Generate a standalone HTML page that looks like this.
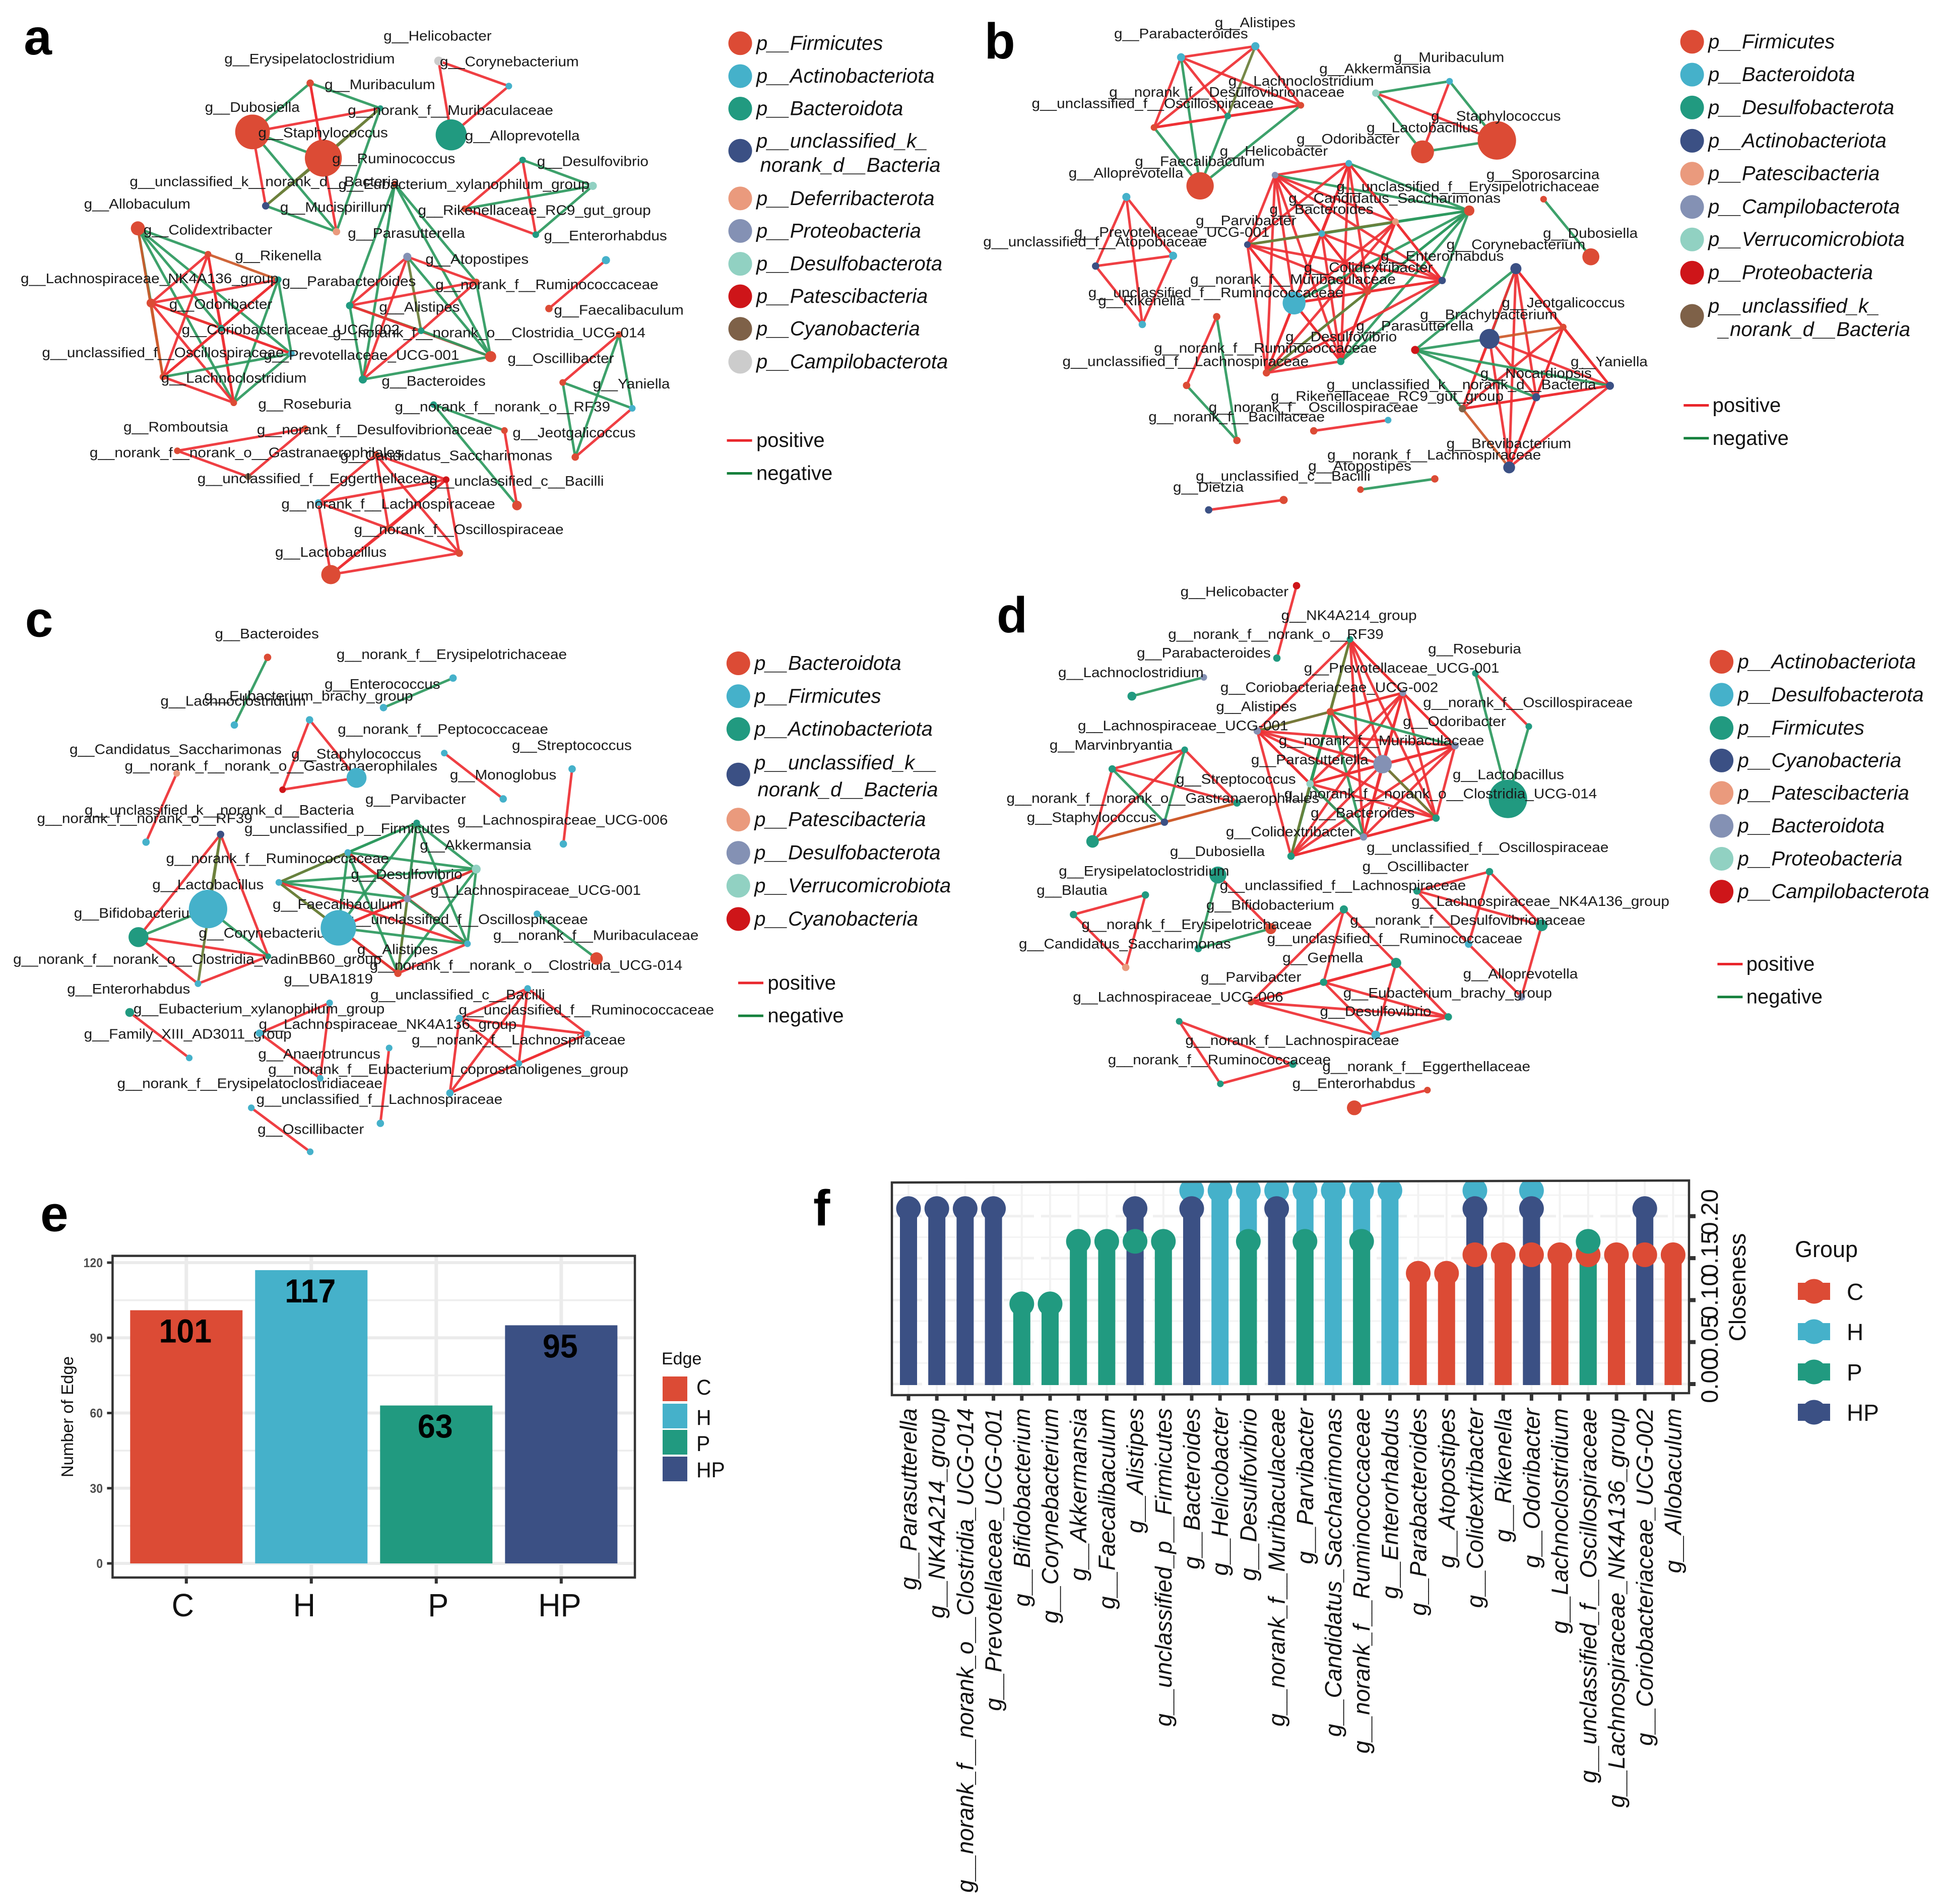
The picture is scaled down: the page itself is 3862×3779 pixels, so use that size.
<!DOCTYPE html>
<html lang="en">
<head>
<meta charset="utf-8">
<title>Microbial co-occurrence networks</title>
<style>
html,body{margin:0;padding:0;background:#fff;}
svg{display:block;font-family:"Liberation Sans",sans-serif;}
</style>
</head>
<body>
<svg id="figure" xmlns="http://www.w3.org/2000/svg" width="3862" height="3779" viewBox="0 0 3862 3779">
<rect x="0" y="0" width="3862" height="3779" fill="#ffffff"/>
</svg>
<script>
const palette = {R:'#DC4B35',B:'#45B1CA',T:'#219A80',N:'#3B5084',S:'#EA9A7D',V:'#8491B4',M:'#91D1C2',D:'#CE1519',W:'#7E6148',G:'#CCCCCC'};
const edgeColors = {p:'#EE3035',n:'#2E9A60',o:'#6C7F3A',c:'#CC5A2B'};

/* Panel a */
const aNodes = [[700,165,12,'G'],[812,233,9,'B'],[720,365,42,'T'],[495,225,10,'R'],[607,293,8,'T'],[403,357,47,'R'],[516,428,50,'R'],[630,498,9,'R'],[424,557,10,'N'],[537,627,10,'S'],[834,433,9,'T'],[946,503,11,'M'],[742,565,9,'R'],[855,635,9,'T'],[220,618,19,'R'],[332,688,9,'R'],[444,757,9,'T'],[241,820,12,'R'],[353,888,9,'T'],[465,957,9,'B'],[260,1020,9,'R'],[373,1090,9,'R'],[650,695,11,'V'],[760,763,9,'R'],[558,827,10,'T'],[672,895,9,'T'],[783,965,15,'R'],[579,1027,11,'T'],[967,704,11,'B'],[876,835,10,'R'],[988,905,9,'R'],[898,1035,9,'R'],[1009,1105,9,'B'],[918,1237,10,'R'],[692,1095,9,'T'],[805,1165,9,'R'],[825,1368,13,'R'],[487,1160,9,'R'],[283,1220,9,'R'],[396,1290,9,'W'],[600,1230,9,'R'],[712,1298,9,'D'],[508,1360,9,'B'],[620,1430,9,'R'],[733,1497,10,'R'],[528,1555,26,'R']];
const aEdges = "0-1p 1-2p 0-2p 3-4n 3-5n 3-6p 3-9p 4-5p 4-6o 4-8o 5-6n 5-8p 5-9n 4-9n 8-9n 6-8o 10-11n 10-12p 10-13p 11-12n 11-13n 12-13p 14-15n 14-17n 14-18n 14-19n 14-20c 14-21n 15-16c 15-17p 15-18p 15-20p 15-21p 16-17p 16-18p 16-19n 16-20p 16-21n 17-18c 17-19p 17-20c 17-21p 18-19p 18-20p 18-21p 19-20n 19-21n 20-21p 7-24n 7-27n 7-23n 7-26n 22-23p 22-24p 22-25o 22-26n 22-27p 23-24p 23-25p 23-26n 24-25o 24-26p 25-26n 25-27p 26-27n 24-27n 28-29p 30-31p 30-32n 30-33n 31-32n 31-33n 32-33p 34-35n 34-36n 35-36p 37-38p 38-39p 37-39p 40-41p 40-42p 40-43p 40-44p 41-42p 41-43p 41-44p 41-45p 42-43p 42-45p 43-44p 43-45p 44-45p".split(' ');
const aLabels = [["g__Helicobacter",612,98],["g__Erysipelatoclostridium",358,160],["g__Corynebacterium",702,168],["g__Muribaculum",518,230],["g__Dubosiella",327,291],["g__norank_f__Muribaculaceae",555,299],["g__Staphylococcus",412,360],["g__Alloprevotella",742,368],["g__Ruminococcus",530,430],["g__Desulfovibrio",857,438],["g__unclassified_k__norank_d__Bacteria",207,492],["g__Eubacterium_xylanophilum_group",540,500],["g__Allobaculum",134,553],["g__Mucispirillum",447,562],["g__Rikenellaceae_RC9_gut_group",667,570],["g__Colidextribacter",229,623],["g__Parasutterella",555,632],["g__Enterorhabdus",868,639],["g__Rikenella",375,693],["g__Atopostipes",679,702],["g__Lachnospiraceae_NK4A136_group",33,755],["g__Parabacteroides",450,762],["g__norank_f__Ruminococcaceae",695,771],["g__Odoribacter",270,824],["g__Alistipes",605,832],["g__Faecalibaculum",884,840],["g__Coriobacteriaceae_UCG-002",290,893],["g__norank_f__norank_o__Clostridia_UCG-014",531,901],["g__unclassified_f__Oscillospiraceae",67,955],["g__Prevotellaceae_UCG-001",421,962],["g__Oscillibacter",810,971],["g__Lachnoclostridium",257,1024],["g__Bacteroides",609,1032],["g__Yaniella",946,1040],["g__Roseburia",412,1094],["g__norank_f__norank_o__RF39",630,1102],["g__Romboutsia",197,1156],["g__norank_f__Desulfovibrionaceae",410,1164],["g__Jeotgalicoccus",818,1172],["g__norank_f__norank_o__Gastranaerophilales",143,1226],["g__Candidatus_Saccharimonas",543,1234],["g__unclassified_f__Eggerthellaceae",315,1296],["g__unclassified_c__Bacilli",685,1303],["g__norank_f__Lachnospiraceae",449,1365],["g__norank_f__Oscillospiraceae",565,1434],["g__Lactobacillus",439,1495]];
const aLegend = [[["p__Firmicutes"],'R',117,[117],[1207]],[["p__Actinobacteriota"],'B',206,[206],[1207]],[["p__Bacteroidota"],'T',294,[294],[1207]],[["p__unclassified_k_","norank_d__Bacteria"],'N',408,[382,447],[1207,1213]],[["p__Deferribacterota"],'S',537,[537],[1207]],[["p__Proteobacteria"],'V',625,[625],[1207]],[["p__Desulfobacterota"],'M',714,[714],[1207]],[["p__Patescibacteria"],'D',802,[802],[1207]],[["p__Cyanobacteria"],'W',890,[890],[1207]],[["p__Campilobacterota"],'G',979,[979],[1207]]];

/* Panel b */
const bNodes = [[323,155,11,'B'],[444,125,11,'B'],[518,285,9,'R'],[279,345,9,'R'],[399,314,9,'T'],[354,503,37,'R'],[640,252,10,'M'],[760,220,9,'B'],[716,411,31,'R'],[837,380,52,'R'],[476,474,9,'V'],[596,442,9,'B'],[792,570,14,'R'],[672,600,9,'S'],[552,632,9,'B'],[431,662,9,'N'],[748,759,10,'N'],[627,789,9,'R'],[507,820,31,'B'],[583,978,10,'T'],[462,1009,10,'R'],[913,539,9,'R'],[990,695,23,'R'],[234,533,11,'B'],[310,692,11,'B'],[184,720,10,'N'],[260,878,10,'B'],[381,857,10,'R'],[332,1043,10,'R'],[414,1192,10,'R'],[868,727,15,'N'],[945,885,9,'R'],[825,917,27,'N'],[704,947,11,'D'],[1021,1044,11,'N'],[901,1075,11,'N'],[781,1106,10,'W'],[857,1265,16,'N'],[539,1166,10,'R'],[660,1137,9,'B'],[615,1325,9,'R'],[736,1296,10,'R'],[368,1380,10,'N'],[490,1353,11,'R']];
const bEdges = "0-1p 0-2p 0-3p 0-4p 0-5n 1-2p 1-3p 1-4o 2-3p 2-4p 2-5n 3-4p 3-5n 4-5n 6-7n 6-8n 6-9p 7-8p 7-9n 8-9n 10-11p 10-12n 10-13p 10-14p 10-15p 10-16p 10-17p 10-18p 10-19p 10-20p 11-12n 11-13p 11-14p 11-15p 11-16p 11-17p 11-18p 11-19p 11-20p 12-13n 12-14n 12-15n 12-16n 12-17n 12-18n 12-19n 12-20n 13-14n 13-15o 13-16p 13-17p 13-18p 13-19p 13-20p 14-15o 14-16p 14-17p 14-18p 14-19p 14-20p 15-16p 15-17p 15-18p 15-19p 15-20p 16-17p 16-18p 16-19n 16-20p 17-18p 17-19p 17-20o 18-19p 18-20p 19-20p 21-22n 23-24p 23-25p 23-26p 24-25p 24-26p 25-26p 27-28p 27-29n 28-29n 30-31p 30-32n 30-33n 30-34p 30-35p 30-36p 30-37p 31-32c 31-34p 31-35p 31-36p 31-37p 32-33n 32-34p 32-35p 32-36p 32-37p 33-34n 33-35n 33-36n 34-35p 34-36p 34-37p 35-36p 35-37p 36-37c 38-39p 40-41n 42-43p".split(' ');
const bLabels = [["g__Alistipes",378,62],["g__Parabacteroides",214,92],["g__Muribaculum",669,156],["g__Akkermansia",548,187],["g__Lachnoclostridium",400,220],["g__norank_f__Desulfovibrionaceae",206,250],["g__unclassified_f__Oscillospiraceae",80,281],["g__Staphylococcus",730,315],["g__Lactobacillus",625,346],["g__Odoribacter",511,377],["g__Helicobacter",386,410],["g__Faecalibaculum",248,438],["g__Alloprevotella",140,469],["g__Sporosarcina",820,473],["g__unclassified_f__Erysipelotrichaceae",576,506],["g__Candidatus_Saccharimonas",498,537],["g__Bacteroides",467,567],["g__Parvibacter",347,598],["g__Prevotellaceae_UCG-001",149,629],["g__Dubosiella",912,632],["g__unclassified_f__Atopobiaceae",1,655],["g__Corynebacterium",755,663],["g__Enterorhabdus",648,694],["g__Colidextribacter",523,725],["g__norank_f__Muribaculaceae",338,757],["g__unclassified_f__Ruminococcaceae",172,793],["g__Rikenella",188,815],["g__Jeotgalicoccus",845,820],["g__Brachybacterium",712,852],["g__Parasutterella",608,883],["g__Desulfovibrio",493,912],["g__norank_f__Ruminococcaceae",279,943],["g__unclassified_f__Lachnospiraceae",130,979],["g__Yaniella",957,980],["g__Nocardiopsis",810,1011],["g__unclassified_k__norank_d__Bacteria",560,1042],["g__Rikenellaceae_RC9_gut_group",469,1073],["g__norank_f__Oscillospiraceae",368,1103],["g__norank_f__Bacillaceae",270,1129],["g__Brevibacterium",755,1201],["g__norank_f__Lachnospiraceae",561,1232],["g__Atopostipes",530,1262],["g__unclassified_c__Bacilli",347,1289],["g__Dietzia",310,1319]];
const bLegend = [[["p__Firmicutes"],'R',113,[113],[1181]],[["p__Bacteroidota"],'B',202,[202],[1181]],[["p__Desulfobacterota"],'T',291,[291],[1181]],[["p__Actinobacteriota"],'N',381,[381],[1181]],[["p__Patescibacteria"],'S',470,[470],[1181]],[["p__Campilobacterota"],'V',560,[560],[1181]],[["p__Verrucomicrobiota"],'M',648,[648],[1181]],[["p__Proteobacteria"],'D',738,[738],[1181]],[["p__unclassified_k_","_norank_d__Bacteria"],'W',855,[828,892],[1181,1198]]];

/* Panel c */
const cNodes = [[427,211,10,'R'],[374,394,10,'B'],[723,267,10,'B'],[612,347,10,'B'],[494,380,10,'B'],[569,537,27,'B'],[451,569,9,'D'],[709,470,9,'B'],[803,594,10,'B'],[913,513,10,'B'],[899,716,10,'B'],[282,525,9,'S'],[233,711,10,'B'],[352,690,10,'N'],[332,892,52,'B'],[221,968,27,'T'],[428,1020,8,'T'],[316,1094,9,'B'],[665,659,9,'T'],[555,739,9,'B'],[760,784,12,'M'],[445,820,9,'B'],[650,864,10,'V'],[540,943,48,'B'],[746,986,9,'B'],[635,1066,10,'R'],[857,905,9,'B'],[952,1026,17,'R'],[842,1107,9,'B'],[733,1188,10,'B'],[937,1230,9,'B'],[828,1310,9,'B'],[718,1390,10,'B'],[207,1172,12,'T'],[302,1295,9,'B'],[526,1146,9,'B'],[511,1350,9,'B'],[414,1228,10,'B'],[621,1268,9,'B'],[607,1472,10,'B'],[401,1430,9,'B'],[495,1549,9,'B']];
const cEdges = "0-1n 2-3n 4-5p 4-6p 5-6p 7-8p 9-10p 11-12p 13-14o 13-15p 13-16p 14-15n 14-16n 15-16p 15-17p 16-17p 13-17o 18-19n 18-20n 18-21n 18-22c 18-23n 18-24n 18-25n 19-20n 19-21o 19-22o 19-23n 19-24p 19-25n 20-21n 20-22n 20-23p 20-24n 20-25n 21-22n 21-23o 21-24p 21-25o 22-23p 22-24n 22-25o 23-24n 23-25p 24-25p 26-27n 28-29p 28-30p 28-31p 28-32p 29-30p 29-31p 29-32p 30-31p 30-32p 31-32p 33-34p 35-36p 36-37p 35-37p 38-39p 40-41p".split(' ');
const cLabels = [["g__Bacteroides",343,148],["g__norank_f__Erysipelotrichaceae",537,204],["g__Enterococcus",518,284],["g__Eubacterium_brachy_group",326,316],["g__Lachnoclostridium",256,330],["g__norank_f__Peptococcaceae",539,406],["g__Streptococcus",817,450],["g__Candidatus_Saccharimonas",111,461],["g__Staphylococcus",465,473],["g__norank_f__norank_o__Gastranaerophilales",199,506],["g__Monoglobus",718,530],["g__Parvibacter",583,596],["g__unclassified_k__norank_d__Bacteria",135,625],["g__norank_f__norank_o__RF39",59,648],["g__Lachnospiraceae_UCG-006",730,652],["g__unclassified_p__Firmicutes",390,675],["g__Akkermansia",670,720],["g__norank_f__Ruminococcaceae",265,756],["g__Desulfovibrio",560,799],["g__Lactobacillus",243,827],["g__Lachnospiraceae_UCG-001",687,842],["g__Faecalibaculum",435,880],["g__Bifidobacterium",118,904],["g__unclassified_f__Oscillospiraceae",552,921],["g__Corynebacterium",317,958],["g__norank_f__Muribaculaceae",787,964],["g__Alistipes",570,1002],["g__norank_f__norank_o__Clostridia_vadinBB60_group",21,1029],["g__norank_f__norank_o__Clostridia_UCG-014",590,1045],["g__UBA1819",453,1082],["g__Enterorhabdus",107,1109],["g__unclassified_c__Bacilli",591,1125],["g__Eubacterium_xylanophilum_group",213,1163],["g__unclassified_f__Ruminococcaceae",732,1166],["g__Lachnospiraceae_NK4A136_group",413,1205],["g__Family_XIII_AD3011_group",134,1231],["g__norank_f__Lachnospiraceae",657,1247],["g__Anaerotruncus",412,1285],["g__norank_f__Eubacterium_coprostanoligenes_group",428,1327],["g__norank_f__Erysipelatoclostridiaceae",187,1365],["g__unclassified_f__Lachnospiraceae",409,1408],["g__Oscillibacter",411,1489]];
const cLegend = [[["p__Bacteroidota"],'R',227,[227],[1204]],[["p__Firmicutes"],'B',316,[316],[1204]],[["p__Actinobacteriota"],'T',405,[405],[1204]],[["p__unclassified_k__","norank_d__Bacteria"],'N',528,[496,569],[1204,1209]],[["p__Patescibacteria"],'S',650,[650],[1204]],[["p__Desulfobacterota"],'V',740,[740],[1204]],[["p__Verrucomicrobiota"],'M',829,[829],[1204]],[["p__Cyanobacteria"],'D',919,[919],[1204]]];

/* Panel d */
const dNodes = [[511,17,10,'D'],[479,213,10,'T'],[360,265,9,'V'],[243,316,12,'T'],[598,162,9,'T'],[684,307,9,'V'],[566,358,10,'R'],[447,410,10,'V'],[769,450,10,'V'],[651,500,25,'V'],[533,553,10,'M'],[738,646,10,'T'],[620,697,10,'V'],[502,749,10,'T'],[802,254,9,'T'],[889,398,9,'T'],[855,594,52,'T'],[329,461,9,'T'],[211,513,10,'T'],[414,605,10,'T'],[296,657,10,'N'],[179,709,17,'T'],[383,800,23,'T'],[469,945,15,'R'],[351,999,10,'T'],[265,854,10,'T'],[148,907,10,'T'],[233,1050,10,'S'],[588,893,11,'T'],[673,1038,14,'T'],[555,1090,10,'T'],[437,1144,9,'R'],[758,1184,10,'T'],[640,1233,12,'B'],[825,791,10,'T'],[707,843,10,'T'],[910,936,16,'T'],[791,987,10,'B'],[877,1130,10,'V'],[320,1196,9,'T'],[505,1312,10,'T'],[387,1365,9,'T'],[605,1430,20,'R'],[724,1382,9,'R']];
const dEdges = "0-1p 2-3n 4-5p 4-6o 4-7p 4-8p 4-9p 4-10o 4-11p 4-12p 4-13o 5-6c 5-7p 5-8p 5-9p 5-10p 5-11p 5-12p 5-13p 6-7o 6-8n 6-9n 6-10n 6-11p 6-12n 6-13n 7-8p 7-9p 7-10p 7-11p 7-12p 7-13p 8-9p 8-10p 8-11p 8-12p 8-13p 9-10p 9-11o 9-12p 9-13p 10-11p 10-12n 10-13o 11-12p 11-13p 12-13p 14-15p 14-16n 15-16n 17-18p 17-19p 17-20n 17-21p 18-19p 18-20n 18-21p 19-20c 19-21c 20-21c 22-23p 22-24n 23-24n 25-26p 25-27p 26-27p 28-29p 28-30p 28-31p 29-30p 29-31p 29-32p 29-33p 30-31p 30-32p 30-33p 31-32p 31-33p 32-33p 34-35p 34-36p 34-37p 35-36p 35-37p 36-38p 37-38p 39-40p 39-41p 40-41p 42-43p".split(' ');
const dLabels = [["g__Helicobacter",322,34],["g__NK4A214_group",486,98],["g__norank_f__norank_o__RF39",302,149],["g__Roseburia",725,189],["g__Parabacteroides",251,200],["g__Prevotellaceae_UCG-001",523,241],["g__Lachnoclostridium",123,253],["g__Coriobacteriaceae_UCG-002",387,293],["g__norank_f__Oscillospiraceae",717,334],["g__Alistipes",380,345],["g__Odoribacter",684,385],["g__Lachnospiraceae_UCG-001",155,397],["g__norank_f__Muribaculaceae",482,437],["g__Marvinbryantia",109,449],["g__Parasutterella",437,489],["g__Lactobacillus",765,529],["g__Streptococcus",315,541],["g__norank_f__norank_o__Gastranaerophilales",39,593],["g__norank_f__norank_o__Clostridia_UCG-014",491,581],["g__Bacteroides",534,633],["g__Staphylococcus",72,645],["g__Colidextribacter",396,684],["g__unclassified_f__Oscillospiraceae",625,726],["g__Dubosiella",305,737],["g__Oscillibacter",618,778],["g__Erysipelatoclostridium",124,790],["g__unclassified_f__Lachnospiraceae",386,829],["g__Blautia",88,842],["g__Lachnospiraceae_NK4A136_group",698,872],["g__Bifidobacterium",364,882],["g__norank_f__Desulfovibrionaceae",598,923],["g__norank_f__Erysipelotrichaceae",161,935],["g__unclassified_f__Ruminococcaceae",463,973],["g__Candidatus_Saccharimonas",59,987],["g__Gemella",488,1025],["g__Alloprevotella",782,1068],["g__Parvibacter",355,1077],["g__Eubacterium_brachy_group",587,1120],["g__Lachnospiraceae_UCG-006",147,1131],["g__Desulfovibrio",549,1170],["g__norank_f__Lachnospiraceae",330,1248],["g__norank_f__Ruminococcaceae",204,1301],["g__norank_f__Eggerthellaceae",553,1319],["g__Enterorhabdus",504,1365]];
const dLegend = [[["p__Actinobacteriota"],'R',223,[223],[1229]],[["p__Desulfobacterota"],'B',312,[312],[1229]],[["p__Firmicutes"],'T',402,[402],[1229]],[["p__Cyanobacteria"],'N',490,[490],[1229]],[["p__Patescibacteria"],'S',578,[578],[1229]],[["p__Bacteroidota"],'V',667,[667],[1229]],[["p__Proteobacteria"],'M',756,[756],[1229]],[["p__Campilobacterota"],'D',845,[845],[1229]]];

/* Panel e: bar chart */
const edgeCategories = ["C","H","P","HP"];
const edgeCounts = [101,117,63,95];
const edgeYTicks = [0,30,60,90,120];
const edgeMinorTicks = [15,45,75,105];

/* Panel f: lollipop chart */
const genusNames = ["g__Parasutterella","g__NK4A214_group","g__norank_f__norank_o__Clostridia_UCG-014","g__Prevotellaceae_UCG-001","g__Bifidobacterium","g__Corynebacterium","g__Akkermansia","g__Faecalibaculum","g__Alistipes","g__unclassified_p__Firmicutes","g__Bacteroides","g__Helicobacter","g__Desulfovibrio","g__norank_f__Muribaculaceae","g__Parvibacter","g__Candidatus_Saccharimonas","g__norank_f__Ruminococcaceae","g__Enterorhabdus","g__Parabacteroides","g__Atopostipes","g__Colidextribacter","g__Rikenella","g__Odoribacter","g__Lachnoclostridium","g__unclassified_f__Oscillospiraceae","g__Lachnospiraceae_NK4A136_group","g__Coriobacteriaceae_UCG-002","g__Allobaculum"];
const closenessC  = [null,null,null,null,null,null,null,null,null,null,null,null,null,null,null,null,null,null,0.132,0.132,0.154,0.154,0.154,0.154,0.154,0.154,0.154,0.154];
const closenessH  = [null,null,null,null,null,null,null,null,null,null,0.2305,0.2305,0.2305,0.2305,0.2305,0.2305,0.2305,0.2305,null,null,0.2305,null,0.2305,null,null,null,null,null];
const closenessP  = [null,null,null,null,0.0955,0.0955,0.17,0.17,0.17,0.17,null,null,0.17,null,0.17,null,0.17,null,null,null,null,null,null,null,0.17,null,null,null];
const closenessHP = [0.209,0.209,0.209,0.209,null,null,null,null,0.209,null,0.209,null,null,0.209,null,null,null,null,null,null,0.209,null,0.209,null,null,null,0.209,null];
const closenessTicks = ["0.00","0.05","0.10","0.15","0.20"];
const closenessTickValues = [0,0.05,0.1,0.15,0.2];
const groupNames = ["C","H","P","HP"];

const SVGNS = 'http://www.w3.org/2000/svg';
const root = document.getElementById('figure');

function mk(tag, parent, attrs) {
  const el = document.createElementNS(SVGNS, tag);
  for (const k in attrs) el.setAttribute(k, attrs[k]);
  parent.appendChild(el);
  return el;
}
function group(parent, name) {
  const g = mk('g', parent, {});
  
  
  return g;
}
function text(parent, name, str, x, y, size, opts) {
  const o = opts || {};
  let tf = 'translate(' + x + ',' + y + ')';
  if (o.rotate) tf += ' rotate(' + o.rotate + ')';
  if (o.sx) tf += ' scale(' + o.sx + ',1)';
  const t = mk('text', parent, {transform: tf, 'font-size': size, fill: o.fill || '#000'});
  if (o.anchor) t.setAttribute('text-anchor', o.anchor);
  if (o.italic) t.setAttribute('font-style', 'italic');
  if (o.bold) t.setAttribute('font-weight', 'bold');
  
  
  t.textContent = str;
  return t;
}

function network(id, letter, letterPos, ox, sxz, oy, nodes, edges, labels, legend, legendLine, nodesOverLabels) {
  const syz = 0.7334;
  const X = z => ox + z * sxz;
  const Y = z => oy + z * syz;
  const panel = group(root, 'panel-' + id);
  text(panel, 'panel-letter-' + id, letter, X(letterPos[0]), Y(letterPos[1]), 100, {bold: true});
  const eg = group(panel, 'network-edges-' + id);
  edges.forEach(function (e) {
    const m = e.match(/(\d+)-(\d+)(\w)/);
    const a = nodes[+m[1]], b = nodes[+m[2]];
    const line = mk('line', eg, {x1: X(a[0]), y1: Y(a[1]), x2: X(b[0]), y2: Y(b[1]), stroke: edgeColors[m[3]], 'stroke-width': 5, 'stroke-opacity': 0.93});
    
    
  });
  const lg = mk('g', panel, {});
  
  
  labels.forEach(function (l) {
    text(lg, 'node-label', l[0], X(l[1]), Y(l[2]) + 8.5, 27.5, {sx: 1.08, fill: '#1a1a1a'});
  });
  const ng = group(panel, 'network-nodes-' + id);
  nodes.forEach(function (n) {
    const c = mk('circle', ng, {cx: X(n[0]), cy: Y(n[1]), r: n[2] * syz, fill: palette[n[3]]});
    
    
  });
  if (!nodesOverLabels) panel.appendChild(lg);
  const leg = group(panel, 'legend-' + id);
  legend.forEach(function (it) {
    const cxv = X(it[4][0]) - 32;
    const c = mk('circle', leg, {cx: cxv, cy: Y(it[2]), r: 23.5, fill: palette[it[1]]});
    
    
    it[0].forEach(function (s, i) {
      text(leg, 'legend-entry', s, X(it[4][i]), Y(it[3][i]) + 13, 40, {italic: true, fill: '#111'});
    });
  });
  const ll = legendLine;
  [['positive', '#E9262C', ll[2]], ['negative', '#14803C', ll[3]]].forEach(function (row) {
    const ln = mk('line', leg, {x1: X(ll[0]), x2: X(ll[0]) + 50, y1: Y(row[2]), y2: Y(row[2]), stroke: row[1], 'stroke-width': 5});
    
    
    text(leg, 'legend-entry-' + row[0], row[0], X(ll[1]), Y(row[2]) + 13, 40, {fill: '#111'});
  });
}

network('a', 'a', [38, 147], 0, 1.2436, 0, aNodes, aEdges, aLabels, aLegend, [1160, 1207, 1192, 1281], false);
network('b', 'b', [3, 158], 1950, 1.2194, 0, bNodes, bEdges, bLabels, bLegend, [1141, 1188, 1097, 1186], false);
network('c', 'c', [40, 155], 0, 1.2436, 1150, cNodes, cEdges, cLabels, cLegend, [1178, 1225, 1092, 1181], true);
network('d', 'd', [23, 143], 1950, 1.2194, 1150, dNodes, dEdges, dLabels, dLegend, [1196, 1243, 1041, 1130], false);

/* ---- bar chart ---- */
(function () {
  const panel = group(root, 'panel-e');
  const colors = [palette.R, palette.B, palette.T, palette.N];
  const yE = v => 3103 + (2506 - 3103) * v / 120;
  const xC = i => 369.8 + 248 * i;
  const barW = 223;
  const left = 223.4, right = 1260, top = 2492.6, bottom = 3131;
  const xLabelShift = [-7, -14, 4, -3];
  text(panel, 'panel-letter-e', 'e', 80, 2443.5, 100, {bold: true});
  const grid = group(panel, 'grid-e');
  edgeMinorTicks.forEach(function (v) {
    const l = mk('line', grid, {x1: left, x2: right, y1: yE(v), y2: yE(v), stroke: '#EDEDED', 'stroke-width': 3.5});
    
    
  });
  edgeYTicks.forEach(function (v) {
    const l = mk('line', grid, {x1: left, x2: right, y1: yE(v), y2: yE(v), stroke: '#EBEBEB', 'stroke-width': 6});
    
    
  });
  edgeCategories.forEach(function (c, i) {
    const l = mk('line', grid, {x1: xC(i), x2: xC(i), y1: top, y2: bottom, stroke: '#EBEBEB', 'stroke-width': 7});
    
    
  });
  edgeCounts.forEach(function (v, i) {
    const b = mk('rect', panel, {x: xC(i) - barW / 2, y: yE(v), width: barW, height: yE(0) - yE(v), fill: colors[i]});
    
    
    text(panel, 'bar-value-' + edgeCategories[i], String(v), xC(i) - 2, yE(v) + 64, 66, {bold: true, anchor: 'middle', sx: 0.95});
  });
  const frame = mk('rect', panel, {x: left, y: top, width: right - left, height: bottom - top, fill: 'none', stroke: '#333', 'stroke-width': 4.5});
  
  
  edgeYTicks.forEach(function (v) {
    const t = mk('line', panel, {x1: left - 11, x2: left, y1: yE(v), y2: yE(v), stroke: '#333', 'stroke-width': 5});
    
    
    text(panel, 'y-tick-label', String(v), 204, yE(v) + 9, 25, {anchor: 'end', fill: '#4D4D4D', bold: true, sx: 0.92});
  });
  edgeCategories.forEach(function (c, i) {
    const t = mk('line', panel, {x1: xC(i), x2: xC(i), y1: bottom, y2: bottom + 12, stroke: '#333', 'stroke-width': 6});
    
    
    text(panel, 'x-tick-label', c, xC(i) + xLabelShift[i], 3208, 64, {anchor: 'middle', fill: '#111', sx: 0.96});
  });
  text(panel, 'y-axis-title', 'Number of Edge', 145, 2812, 33, {rotate: -90, anchor: 'middle', fill: '#111'});
  text(panel, 'legend-title', 'Edge', 1313, 2708, 34, {fill: '#111'});
  const keyTops = [2732, 2786, 2838, 2891];
  const keyBaselines = [2768, 2828, 2880, 2932];
  edgeCategories.forEach(function (c, i) {
    const k = mk('rect', panel, {x: 1315, y: keyTops[i], width: 49, height: 49, fill: colors[i]});
    
    
    text(panel, 'legend-entry', c, 1382, keyBaselines[i], 43, {fill: '#111', sx: 0.95});
  });
})();

/* ---- lollipop chart ---- */
(function () {
  const panel = group(root, 'panel-f');
  const colors = {C: palette.R, H: palette.B, P: palette.T, HP: palette.N};
  const yF = v => 2747 - 1666 * v;
  const xF = i => 1803 + 56.2 * i;
  const left = 1770, right = 3352, top = 2345, bottom = 2767;
  text(panel, 'panel-letter-f', 'f', 1614, 2432, 100, {bold: true});
  const defs = mk('defs', panel, {});
  const clip = mk('clipPath', defs, {id: 'clip-f'});
  mk('rect', clip, {x: left, y: top, width: right - left, height: bottom - top});
  const plot = mk('g', panel, {'clip-path': 'url(#clip-f)'});
  
  
  [0.025, 0.075, 0.125, 0.175, 0.225].forEach(function (v) {
    const l = mk('line', plot, {x1: left, x2: right, y1: yF(v), y2: yF(v), stroke: '#F4F4F4', 'stroke-width': 3});
    
    
  });
  closenessTickValues.forEach(function (v) {
    const l = mk('line', plot, {x1: left, x2: right, y1: yF(v), y2: yF(v), stroke: '#F0F0F0', 'stroke-width': 5, 'stroke-dasharray': '60 14'});
    
    
  });
  genusNames.forEach(function (g, i) {
    const l = mk('line', plot, {x1: xF(i), x2: xF(i), y1: top, y2: bottom, stroke: '#F2F2F2', 'stroke-width': 4});
    
    
  });
  const series = {C: closenessC, H: closenessH, P: closenessP, HP: closenessHP};
  ['H', 'C', 'P', 'HP'].forEach(function (g) {
    series[g].forEach(function (v, i) {
      if (v === null) return;
      const b = mk('rect', plot, {x: xF(i) - 17, y: yF(v), width: 34, height: yF(0) + 2 - yF(v), fill: colors[g]});
      
      
    });
  });
  ['H', 'HP', 'C', 'P'].forEach(function (g) {
    series[g].forEach(function (v, i) {
      if (v === null) return;
      const c = mk('circle', plot, {cx: xF(i), cy: yF(v), r: 24.5, fill: colors[g]});
      
      
    });
  });
  const frame = mk('polygon', panel, {points: left + ',2347 ' + right + ',2343 ' + right + ',2765 ' + left + ',2769', fill: 'none', stroke: '#333', 'stroke-width': 4.5});
  
  
  closenessTickValues.forEach(function (v, i) {
    const t = mk('line', panel, {x1: right, x2: right + 13, y1: yF(v), y2: yF(v), stroke: '#333', 'stroke-width': 8});
    
    
    text(panel, 'y-tick-label', closenessTicks[i], 3409, yF(v) - 8, 47, {rotate: -90, anchor: 'middle', fill: '#111'});
  });
  genusNames.forEach(function (g, i) {
    const t = mk('line', panel, {x1: xF(i), x2: xF(i), y1: 2767, y2: 2780, stroke: '#333', 'stroke-width': 7});
    
    
    text(panel, 'x-tick-label', g, xF(i) + 16, 2795, 46, {rotate: -90, anchor: 'end', italic: true, fill: '#111'});
  });
  text(panel, 'y-axis-title', 'Closeness', 3464, 2555, 46, {rotate: -90, anchor: 'middle', fill: '#111'});
  text(panel, 'legend-title', 'Group', 3562, 2495, 45, {fill: '#111'});
  const keyY = [2563, 2643, 2723, 2803];
  groupNames.forEach(function (g, i) {
    const r = mk('rect', panel, {x: 3568, y: keyY[i] - 17, width: 64, height: 34, fill: colors[g]});
    
    
    const c = mk('circle', panel, {cx: 3600, cy: keyY[i], r: 24.5, fill: colors[g]});
    
    
    text(panel, 'legend-entry', g, 3665, keyY[i] + 17, 46, {fill: '#111'});
  });
})();
</script>
</body>
</html>
